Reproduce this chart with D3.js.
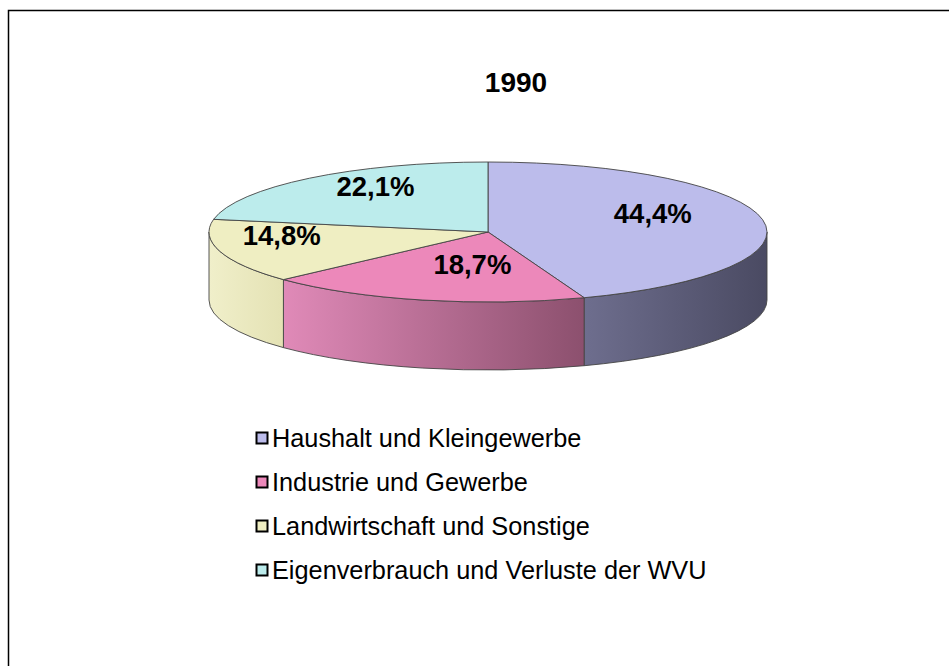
<!DOCTYPE html>
<html>
<head>
<meta charset="utf-8">
<script src="https://cdnjs.cloudflare.com/ajax/libs/d3/7.8.5/d3.min.js"></script>
<style>
  body { margin: 0; background: #fff; }
  svg { display: block; font-family: "Liberation Sans", Arial, sans-serif; }
</style>
</head>
<body>
<svg width="949" height="666"></svg>
<script>
// data
const categories = ['Haushalt und Kleingewerbe', 'Industrie und Gewerbe', 'Landwirtschaft und Sonstige', 'Eigenverbrauch und Verluste der WVU'];
const shares = [44.4, 18.7, 14.8, 22.1];
const labels = ['44,4%', '18,7%', '14,8%', '22,1%'];
const title = '1990';

const svg = d3.select('svg');

// colours: top, side light, side dark
const topColor = ['#bcbceb', '#ec88ba', '#efeec2', '#bcecec'];
const sideLight = ['#6e6e8e', '#e08ab8', '#f0efca', '#a8d8d8'];
const sideDark = ['#4a4a62', '#8c506e', '#e4e2b4', '#8ab8b8'];

// frame
svg.append('path')
  .attr('d', 'M8.5,670 V10.5 H960')
  .attr('fill', 'none')
  .attr('stroke', '#000')
  .attr('stroke-width', 1.5);

svg.append('text')
  .attr('x', 516)
  .attr('y', 92)
  .attr('text-anchor', 'middle')
  .style('font-weight', 'bold')
  .style('font-size', '28px')
  .text(title);

// pie geometry
const cx = 488, cy = 232, rx = 279, ry = 70, depth = 68;
const pt = (a, f = 1, dy = 0) => [cx + f * rx * Math.sin(a), cy - f * ry * Math.cos(a) + dy];

const pie = d3.pie().sort(null).value(d => d);
const arcs = pie(shares);

const defs = svg.append('defs');
const g = svg.append('g');

// side walls (front half only: angles between PI/2 and 3PI/2)
arcs.forEach((d, i) => {
  const a0 = Math.max(d.startAngle, Math.PI / 2);
  const a1 = Math.min(d.endAngle, 3 * Math.PI / 2);
  if (a1 <= a0) return;
  const p0 = pt(a0), p1 = pt(a1);
  const q0 = pt(a0, 1, depth), q1 = pt(a1, 1, depth);
  const gid = 'side' + i;
  const lg = defs.append('linearGradient')
    .attr('id', gid)
    .attr('gradientUnits', 'userSpaceOnUse')
    .attr('x1', Math.min(p0[0], p1[0])).attr('x2', Math.max(p0[0], p1[0]))
    .attr('y1', 0).attr('y2', 0);
  lg.append('stop').attr('offset', 0).attr('stop-color', sideLight[i]);
  lg.append('stop').attr('offset', 1).attr('stop-color', sideDark[i]);
  const path = `M${p0} A${rx},${ry} 0 0 1 ${p1} L${q1} A${rx},${ry} 0 0 0 ${q0} Z`;
  g.append('path')
    .attr('d', path)
    .attr('fill', `url(#${gid})`)
    .attr('stroke', '#444')
    .attr('stroke-width', 0.9)
    .attr('stroke-linejoin', 'round');
});

// top surfaces
arcs.forEach((d, i) => {
  const p0 = pt(d.startAngle), p1 = pt(d.endAngle);
  const large = d.endAngle - d.startAngle > Math.PI ? 1 : 0;
  g.append('path')
    .attr('d', `M${cx},${cy} L${p0} A${rx},${ry} 0 ${large} 1 ${p1} Z`)
    .attr('fill', topColor[i])
    .attr('stroke', '#444')
    .attr('stroke-width', 0.9)
    .attr('stroke-linejoin', 'round');
});

// value labels placed around the slice middles
const labelRadius = [0.6, 0.47, 0.77, 0.63];
const labelShift = [[0, -12], [15, 0], [0, -12], [0, -12]];
g.selectAll('text.lbl')
  .data(arcs)
  .enter().append('text')
  .attr('class', 'lbl')
  .attr('x', (d, i) => pt((d.startAngle + d.endAngle) / 2, labelRadius[i])[0] + labelShift[i][0])
  .attr('y', (d, i) => pt((d.startAngle + d.endAngle) / 2, labelRadius[i])[1] + labelShift[i][1] + 10)
  .attr('text-anchor', 'middle')
  .style('font-weight', 'bold')
  .style('font-size', '27.5px')
  .text((d, i) => labels[i]);

// legend
const ly = d3.scalePoint().domain(categories).range([438, 570]);
const leg = svg.append('g').selectAll('g')
  .data(categories)
  .enter().append('g')
  .attr('transform', d => `translate(256.5,${ly(d)})`);
leg.append('rect')
  .attr('x', 0).attr('y', -5.5)
  .attr('width', 11).attr('height', 11)
  .attr('fill', (d, i) => topColor[i])
  .attr('stroke', '#000')
  .attr('stroke-width', 2);
leg.append('text')
  .attr('x', 15.5)
  .attr('y', 9)
  .style('font-size', '25.3px')
  .text(d => d);
</script>
</body>
</html>
